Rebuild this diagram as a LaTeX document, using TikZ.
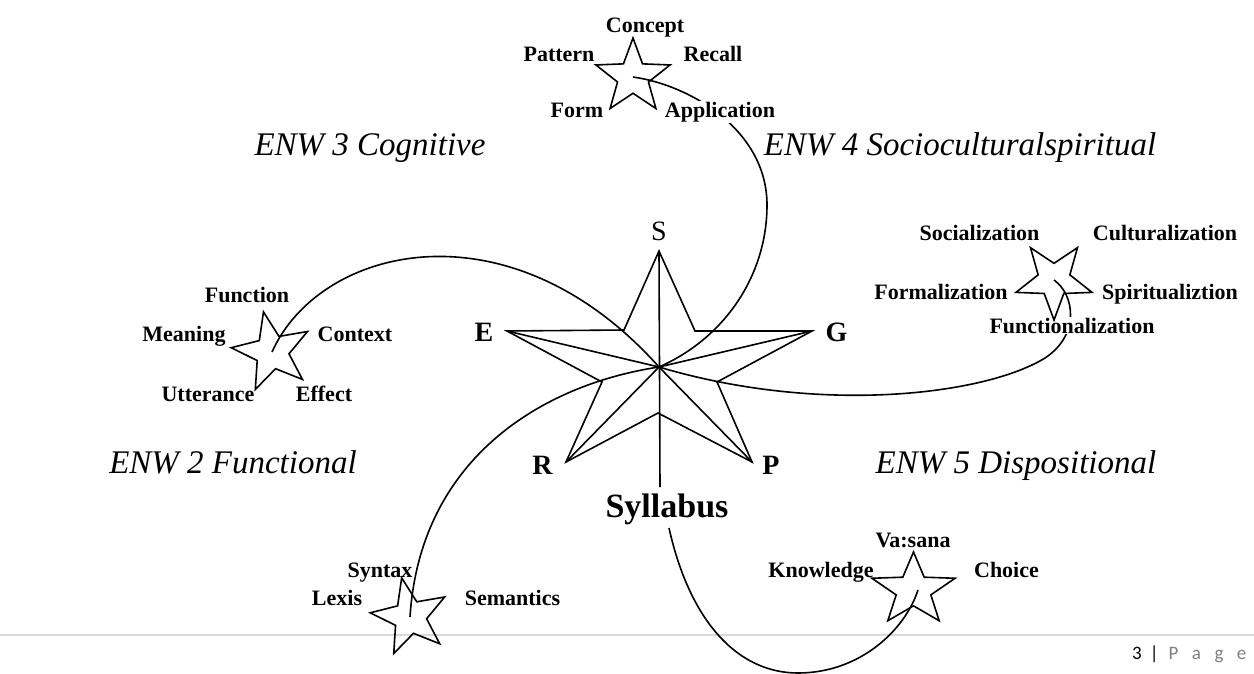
\documentclass[tikz,border=0pt]{standalone}
\usepackage{fontspec}
\setmainfont{Liberation Serif}
\newfontfamily\footfont{Carlito}
\usetikzlibrary{shapes.geometric}
\definecolor{rulegray}{HTML}{D9D9D9}
\definecolor{pagegray}{HTML}{7F7F7F}
\begin{document}
\begin{tikzpicture}[x=1pt,y=-1pt,
  lbl/.style={font=\fontsize{22}{26}\selectfont\bfseries, anchor=base, fill=white, inner sep=1pt},
  enw/.style={font=\fontsize{33}{38}\selectfont\itshape, anchor=base, inner sep=1pt},
  big/.style={font=\fontsize{28}{32}\selectfont\bfseries, anchor=base, inner sep=1pt},
  smallstar/.style={star, star points=5, star point ratio=2.4, draw, line width=1.6pt, inner sep=0pt, minimum size=#1},
  link/.style={line width=1.6pt},
]
\useasboundingbox (0,0) rectangle (1254,673);

% footer rule
\coordinate (rl) at (0,635);
\coordinate (rr) at (1254,635);
\draw[rulegray, line width=1.5pt] (rl) -- (rr);

% central star coordinates
\coordinate (cS) at (659,251);
\coordinate (cG) at (812,331);
\coordinate (cP) at (752,462);
\coordinate (cR) at (566,462);
\coordinate (cE) at (507,331);
\coordinate (i1) at (695,331);
\coordinate (i2) at (717,382);
\coordinate (i3) at (658,413);
\coordinate (i4) at (602,382);
\coordinate (i5) at (624,330);
\coordinate (cc) at (659,367);
\coordinate (sv) at (660,487);

% small star centres
\coordinate (tA) at (633,77);
\coordinate (lB) at (272,352);
\coordinate (rC) at (1054,280);
\coordinate (bD) at (410,617);
\coordinate (bE) at (913.5,590);
\coordinate (e0) at (669,528);
\coordinate (e1) at (798,673);
\coordinate (e2) at (918,590);
\coordinate (a1) at (767,205);
\coordinate (c1) at (1045,358);

% curves
\draw[link] (tA) .. controls (690,85) and (767,130) .. (a1)
             .. controls (767,275) and (725,338) .. (cc);
\draw[link] (lB) .. controls (320,245) and (510,200) .. (cc);
\draw[link] (rC) .. controls (1075,295) and (1080,335) .. (c1)
             .. controls (985,395) and (820,415) .. (cc);
\draw[link] (cc) .. controls (540,385) and (420,460) .. (bD);
\draw[link] (e0) .. controls (690,622) and (738,673) .. (e1)
             .. controls (860,673) and (905,630) .. (e2);

% central star
\draw[link] (cS) -- (i1) -- (cG) -- (i2) -- (cP) -- (i3) -- (cR) -- (i4) -- (cE) -- (i5) -- cycle;
\draw[link] (cE) -- (cc) -- (cG);
\draw[link] (cR) -- (cc) -- (cP);
\draw[link] (cS) -- (sv);

% central labels
\node[font=\fontsize{28}{32}\selectfont, anchor=base, inner sep=1pt] (lS) at (659,240) {S};
\node[big] (lE) at (484,341) {E};
\node[big] (lG) at (836.5,341) {G};
\node[big] (lR) at (542.5,474) {R};
\node[big] (lP) at (771,474) {P};
\node[font=\fontsize{34}{38}\selectfont\bfseries, anchor=base, fill=white, inner sep=1pt] (syl) at (667,517) {Syllabus};

% ENW headings
\node[enw] (enw3) at (370,155) {ENW 3 Cognitive};
\node[enw] (enw4) at (960,155) {ENW 4 Socioculturalspiritual};
\node[enw] (enw2) at (233,473) {ENW 2 Functional};
\node[enw] (enw5) at (1016,473) {ENW 5 Dispositional};

% top star labels
\node[lbl] (concept) at (645,32) {Concept};
\node[lbl] (pattern) at (559,61) {Pattern};
\node[lbl] (recall) at (713,61) {Recall};
\node[lbl] (form) at (577,117) {Form};
\node[lbl] (appl) at (720,117) {Application};

% left star labels
\node[lbl] (function) at (247,302) {Function};
\node[lbl] (meaning) at (184,341) {Meaning};
\node[lbl] (context) at (355,341) {Context};
\node[lbl] (utter) at (208,401) {Utterance};
\node[lbl] (effect) at (324,401) {Effect};

% right star labels
\node[lbl] (social) at (979.5,240) {Socialization};
\node[lbl] (cultur) at (1165,240) {Culturalization};
\node[lbl] (formal) at (941,299) {Formalization};
\node[lbl] (spirit) at (1170,299) {Spiritualiztion};
\node[lbl] (functl) at (1072,333) {Functionalization};

% bottom right labels
\node[lbl] (vasana) at (913,547) {Va:sana};
\node[lbl] (knowl) at (821,577) {Knowledge};
\node[lbl] (choice) at (1006.5,577) {Choice};

% bottom left labels
\node[lbl] (syntax) at (380,577) {Syntax};
\node[lbl] (lexis) at (337,605) {Lexis};
\node[lbl] (seman) at (512.5,605) {Semantics};

% small stars
\node[smallstar=78] (starTop) at (tA) {};
\node[smallstar=82, rotate=12] (starLeft) at (lB) {};
\node[smallstar=80, rotate=180] (starRight) at (rC) {};
\node[smallstar=80, rotate=12] (starBL) at (bD) {};
\node[smallstar=76, xscale=1.15] (starBR) at (bE) {};

% footer
\node[anchor=base west, font=\footfont\fontsize{19}{22}\selectfont, inner sep=0pt] (pg) at (1132,659)
  {3\hspace{8pt}|\hspace{10pt}\textcolor{pagegray}{P\hspace{13.5pt}a\hspace{13.5pt}g\hspace{13.5pt}e}};
\end{tikzpicture}
\end{document}
